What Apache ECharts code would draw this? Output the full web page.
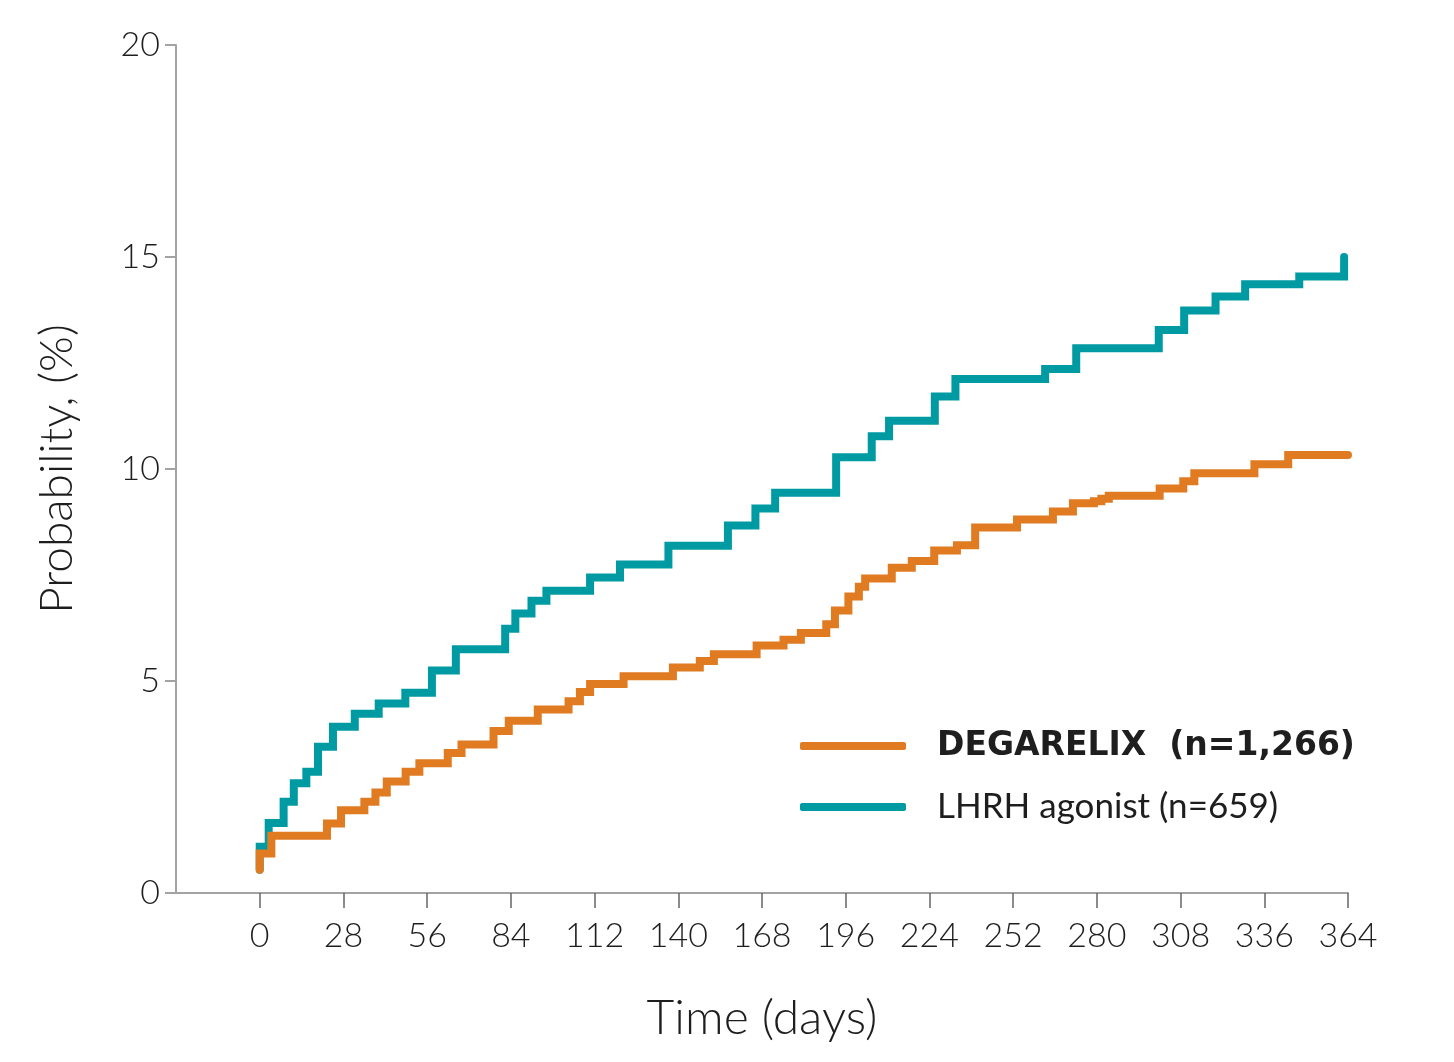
<!DOCTYPE html>
<html lang="en" style="height: 100%">
<head>
  <meta charset="utf-8">
</head>
<body style="height: 100%; margin: 0; background: #fff">
  <div id="container" style="width: 1454px; height: 1062px"></div>

  <script type="text/javascript" src="https://cdn.jsdelivr.net/npm/echarts@6/dist/echarts.min.js"></script>

  <script type="text/javascript">
    var dom = document.getElementById('container');
    var myChart = echarts.init(dom, null, { renderer: 'canvas' });

    // step points: [day, probability %] where the curve jumps
    var degarelixSteps = [
      [0, 0.55], [0, 0.93], [3.9, 1.35], [22.5, 1.64], [27.2, 1.95], [35, 2.15],
      [38.7, 2.37], [42.5, 2.63], [48.8, 2.86], [53.4, 3.06], [62.9, 3.30],
      [67.5, 3.50], [78.2, 3.82], [83.3, 4.06], [93, 4.33], [103.3, 4.52],
      [107.1, 4.74], [110.5, 4.93], [121.7, 5.11], [138.2, 5.32], [147.2, 5.47],
      [151.9, 5.63], [166.2, 5.84], [175.2, 5.97], [181, 6.13], [189.5, 6.34],
      [192.4, 6.66], [196.9, 6.99], [200.4, 7.22], [202.5, 7.42], [211.4, 7.67],
      [218.1, 7.83], [225.6, 8.08], [233.2, 8.20], [239.3, 8.62], [253.3, 8.81],
      [265.3, 9.00], [272, 9.19], [279, 9.24], [281.5, 9.30], [284, 9.37],
      [301, 9.54], [308.9, 9.71], [312.6, 9.90], [332.7, 10.11], [344, 10.33],
      [364, 10.33]
    ];

    var lhrhSteps = [
      [0, 0.55], [0, 1.09], [3, 1.65], [8, 2.15], [11.4, 2.59], [15.6, 2.86],
      [19.5, 3.45], [24.5, 3.92], [31.8, 4.23], [39.8, 4.47], [48.7, 4.72],
      [57.6, 5.25], [65.6, 5.75], [82.1, 6.23], [85.5, 6.59], [90.9, 6.89],
      [95.9, 7.13], [110.5, 7.44], [120.5, 7.75], [136.7, 8.19], [156.6, 8.67],
      [165.8, 9.07], [172.4, 9.44], [192.8, 10.28], [204.7, 10.77], [210.5, 11.14],
      [225.8, 11.71], [232.7, 12.12], [262.7, 12.36], [273.1, 12.85], [300.7, 13.28],
      [309.2, 13.74], [319.7, 14.07], [329.6, 14.36], [347.7, 14.54], [362.7, 14.54],
      [362.7, 15.0]
    ];

    var dayTicks = [0, 28, 56, 84, 112, 140, 168, 196, 224, 252, 280, 308, 336, 364];
    var seriesNames = ['DEGARELIX  (n=1,266)', 'LHRH agonist (n=659)'];

    var FONT = 'Lato';
    var AXIS_GREY = '#a3a3a3';
    var TEXT = '#1e1e1e';

    var option = {
      animation: false,
      backgroundColor: '#ffffff',
      grid: { left: 176, right: 106, top: 45, bottom: 169 },
      legend: {
        data: seriesNames,
        orient: 'vertical',
        left: 795,
        top: 721,
        itemWidth: 106,
        itemHeight: 8,
        itemGap: 21,
        icon: 'roundRect',
        textStyle: {
          fontFamily: FONT,
          fontSize: 35,
          color: TEXT,
          lineHeight: 40,
          padding: [0, 0, 0, 26],
          rich: {
            b: { fontFamily: 'DejaVu Sans', fontSize: 33, fontWeight: 'bold', color: TEXT, lineHeight: 40 }
          }
        },
        formatter: function (name) {
          return name === seriesNames[0] ? '{b|' + name + '}' : name;
        }
      },
      xAxis: {
        type: 'value',
        min: -28,
        max: 364,
        interval: 28,
        name: 'Time (days)',
        nameLocation: 'middle',
        nameGap: 102,
        nameTextStyle: { fontFamily: FONT, fontSize: 48, color: TEXT, fontWeight: 300 },
        splitLine: { show: false },
        axisLine: { show: true, onZero: false, lineStyle: { color: AXIS_GREY, width: 2 } },
        axisTick: {
          show: true,
          length: 15,
          customValues: dayTicks,
          lineStyle: { color: '#666', width: 1.5 }
        },
        axisLabel: {
          margin: 26,
          customValues: dayTicks,
          fontFamily: FONT,
          fontSize: 34,
          fontWeight: 300,
          color: TEXT,
          formatter: function (v) { return v < 0 ? '' : String(v); }
        }
      },
      yAxis: {
        type: 'value',
        min: 0,
        max: 20,
        interval: 5,
        name: 'Probability, (%)',
        nameLocation: 'middle',
        nameGap: 96,
        nameTextStyle: { fontFamily: FONT, fontSize: 46, color: TEXT, fontWeight: 300 },
        splitLine: { show: false },
        axisLine: { show: true, onZero: false, lineStyle: { color: AXIS_GREY, width: 2 } },
        axisTick: { show: true, length: 11, lineStyle: { color: AXIS_GREY, width: 2 } },
        axisLabel: {
          margin: 16,
          fontFamily: FONT,
          fontSize: 34,
          fontWeight: 300,
          color: TEXT
        }
      },
      series: [
        {
          name: seriesNames[1],
          type: 'line',
          step: 'end',
          data: lhrhSteps,
          showSymbol: false,
          color: '#009ba2',
          lineStyle: { width: 8, color: '#009ba2', cap: 'round', join: 'miter' }
        },
        {
          name: seriesNames[0],
          type: 'line',
          step: 'end',
          data: degarelixSteps,
          showSymbol: false,
          color: '#e07b22',
          lineStyle: { width: 8, color: '#e07b22', cap: 'round', join: 'miter' }
        }
      ]
    };

    myChart.setOption(option);
    window.addEventListener('resize', myChart.resize);
  </script>
</body>
</html>
